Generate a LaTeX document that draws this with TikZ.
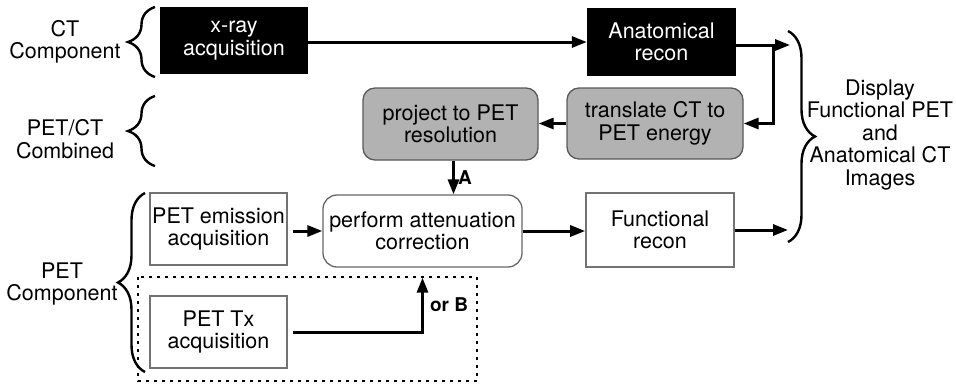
\documentclass[tikz,border=0pt]{standalone}
\usepackage{fontspec}
\setmainfont{TeX Gyre Heros}
\usetikzlibrary{arrows.meta,decorations.pathreplacing}
\begin{document}
\begin{tikzpicture}[x=1pt,y=-1pt,
  every node/.style={font=\fontsize{21.5}{22.5}\selectfont, align=center, inner sep=0pt},
  blackbox/.style={fill=black, text=white},
  graybox/.style={fill=black!30, draw=black!65, line width=1.3pt, rounded corners=12pt},
  whitebox/.style={draw=black!55, line width=1.6pt},
  softbox/.style={draw=black!60, line width=1.3pt, rounded corners=14pt},
  arr/.style={line width=3pt, -{Triangle[length=15pt,width=11pt]}},
  curly/.style={line width=2.4pt, decorate, decoration={brace, amplitude=27pt}},
  labeltext/.style={font=\bfseries\fontsize{19}{21}\selectfont}
]
\useasboundingbox (0,0) rectangle (956,386);

% CT stage
\node[blackbox, minimum width=148pt, minimum height=67pt] (xray) at (234,40.5) {x-ray\\acquisition};
\node[blackbox, minimum width=149pt, minimum height=68pt] (anat) at (661.5,42) {Anatomical\\recon};

% combined stage
\node[graybox, minimum width=176pt, minimum height=71pt] (trans) at (655,123.5) {translate CT to\\PET energy};
\node[graybox, minimum width=175pt, minimum height=72pt] (proj) at (450.5,124) {project to PET\\resolution};

% PET stage
\node[whitebox, minimum width=137pt, minimum height=72pt] (emis) at (218.5,229) {PET emission\\acquisition};
\node[softbox, minimum width=199pt, minimum height=72pt] (atten) at (422.5,231) {perform attenuation\\correction};
\node[whitebox, minimum width=148pt, minimum height=74pt] (func) at (660,230) {Functional\\recon};
\node[whitebox, minimum width=137pt, minimum height=72pt] (tx) at (218.5,332) {PET Tx\\acquisition};

% optional transmission branch
\draw[line width=1.3pt, dash pattern=on 3pt off 5pt] (138,277) rectangle (477,381);

% group labels and braces
\node (lct) at (65,42) {CT\\Component};
\node (lcomb) at (65,139) {PET/CT\\Combined};
\node (lpet) at (62,284) {PET\\Component};
\node (ldisp) at (880,135) {Display\\Functional PET\\and\\Anatomical CT\\Images};

\draw[curly] (155,77) -- (155,7);
\draw[curly] (155,166) -- (155,96);
\draw[curly] (145,372) -- (145,193);
\draw[curly] (788,31) -- (788,242);

% connectors
\coordinate (anatout) at (790,45);
\coordinate (fork) at (773,45);
\coordinate (funcout) at (788,230);

\draw[arr] (xray.east |- anat.west) -- (anat.west);
\draw[arr] (anat.east |- anatout) -- (anatout);
\draw[arr] (fork) |- (trans.east);
\draw[arr] (trans.west) -- (trans.west -| proj.east);
\draw[arr] ([xshift=3pt]proj.south) -- ([xshift=3pt]proj.south |- atten.north)
  node[pos=0.5, right=3pt, labeltext] (la) {A};
\draw[arr] ([xshift=5pt]emis.east |- atten.west) -- (atten.west);
\draw[arr] (atten.east) -- (atten.east -| func.west);
\draw[arr] (func.east |- funcout) -- (funcout);
\draw[arr] ([xshift=5pt]tx.east) -| ([yshift=-10pt]atten.south)
  node[pos=0.75, right=6pt, labeltext] (lb) {or B};
\end{tikzpicture}
\end{document}
